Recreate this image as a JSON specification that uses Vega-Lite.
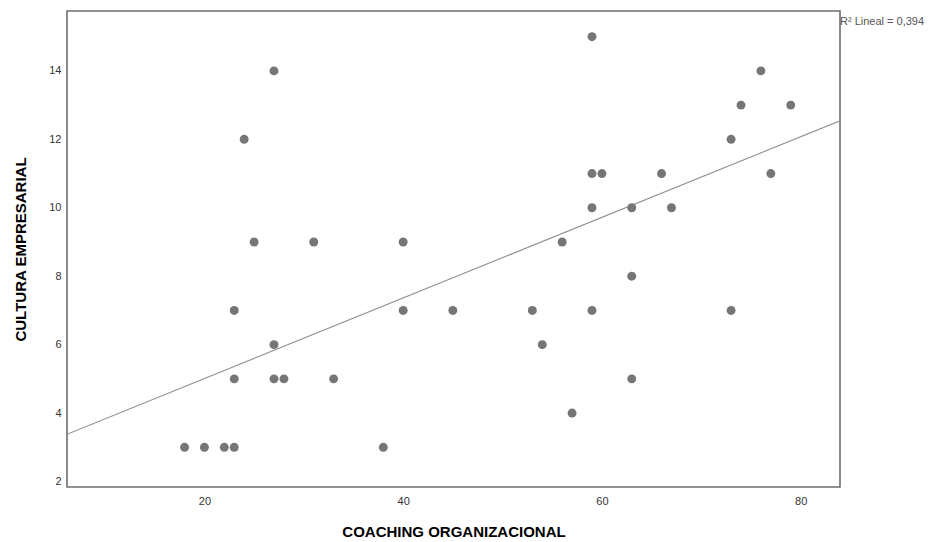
{
  "$schema": "https://vega.github.io/schema/vega-lite/v6.json",
  "width": 773,
  "height": 476,
  "autosize": {"type": "none"},
  "padding": {"left": 67, "top": 11, "right": 98, "bottom": 55},
  "background": "white",
  "config": {
    "view": {"stroke": "#6e6e6e", "strokeWidth": 1.6},
    "font": "Liberation Sans",
    "axis": {
      "grid": false,
      "ticks": false,
      "domain": false,
      "labelFont": "Liberation Sans",
      "labelFontSize": 11,
      "labelColor": "#333333",
      "titleFont": "Liberation Sans",
      "titleFontSize": 15,
      "titleFontWeight": "bold",
      "titleColor": "#000000"
    }
  },
  "datasets": {
    "puntos": [
      {"coaching": 18, "cultura": 3}, {"coaching": 20, "cultura": 3}, {"coaching": 22, "cultura": 3},
      {"coaching": 23, "cultura": 3}, {"coaching": 38, "cultura": 3},
      {"coaching": 23, "cultura": 5}, {"coaching": 27, "cultura": 5}, {"coaching": 28, "cultura": 5},
      {"coaching": 33, "cultura": 5}, {"coaching": 63, "cultura": 5},
      {"coaching": 27, "cultura": 6}, {"coaching": 54, "cultura": 6},
      {"coaching": 23, "cultura": 7}, {"coaching": 40, "cultura": 7}, {"coaching": 45, "cultura": 7},
      {"coaching": 53, "cultura": 7}, {"coaching": 59, "cultura": 7}, {"coaching": 73, "cultura": 7},
      {"coaching": 25, "cultura": 9}, {"coaching": 31, "cultura": 9}, {"coaching": 40, "cultura": 9},
      {"coaching": 56, "cultura": 9},
      {"coaching": 59, "cultura": 10}, {"coaching": 63, "cultura": 10}, {"coaching": 67, "cultura": 10},
      {"coaching": 59, "cultura": 11}, {"coaching": 60, "cultura": 11}, {"coaching": 66, "cultura": 11},
      {"coaching": 77, "cultura": 11},
      {"coaching": 24, "cultura": 12}, {"coaching": 73, "cultura": 12},
      {"coaching": 74, "cultura": 13}, {"coaching": 79, "cultura": 13},
      {"coaching": 27, "cultura": 14}, {"coaching": 76, "cultura": 14},
      {"coaching": 59, "cultura": 15},
      {"coaching": 63, "cultura": 8},
      {"coaching": 57, "cultura": 4}
    ],
    "ajuste": [
      {"coaching": 6.17, "cultura": 3.38},
      {"coaching": 83.96, "cultura": 12.54}
    ],
    "anotacion": [{"texto": "R² Lineal = 0,394"}]
  },
  "layer": [
    {
      "data": {"name": "ajuste"},
      "mark": {"type": "line", "color": "#939393", "strokeWidth": 1.2, "clip": true},
      "encoding": {
        "x": {"field": "coaching", "type": "quantitative"},
        "y": {"field": "cultura", "type": "quantitative"}
      }
    },
    {
      "data": {"name": "puntos"},
      "mark": {"type": "circle", "size": 80, "color": "#767676", "opacity": 1},
      "encoding": {
        "x": {
          "field": "coaching",
          "type": "quantitative",
          "title": "COACHING ORGANIZACIONAL",
          "scale": {"domain": [6.17, 83.96], "nice": false, "zero": false},
          "axis": {"values": [20, 40, 60, 80], "labelPadding": 8, "titlePadding": 18}
        },
        "y": {
          "field": "cultura",
          "type": "quantitative",
          "title": "CULTURA EMPRESARIAL",
          "scale": {"domain": [1.84, 15.75], "nice": false, "zero": false},
          "axis": {"values": [2, 4, 6, 8, 10, 12, 14], "labelPadding": 6, "titlePadding": 20}
        }
      }
    },
    {
      "data": {"name": "anotacion"},
      "mark": {"type": "text", "align": "left", "baseline": "middle", "fontSize": 11, "color": "#555555", "dx": 0, "clip": false},
      "encoding": {
        "x": {"datum": 83.96, "type": "quantitative"},
        "y": {"datum": 15.42, "type": "quantitative"},
        "text": {"field": "texto"}
      }
    }
  ]
}
